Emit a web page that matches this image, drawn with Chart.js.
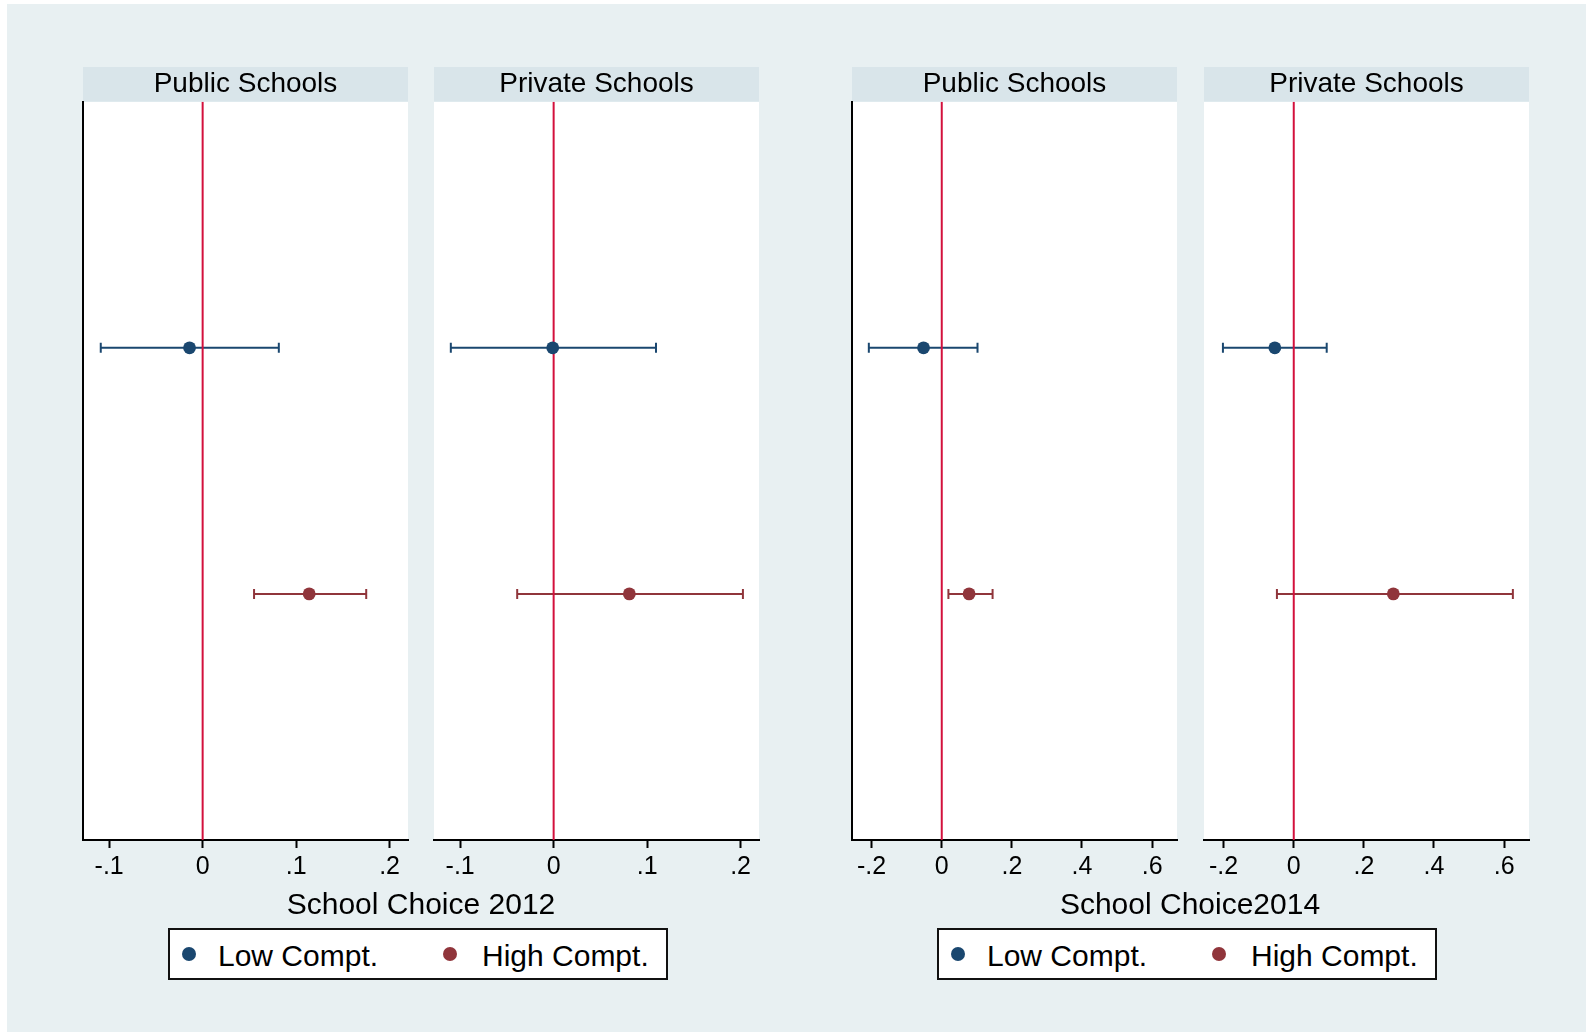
<!DOCTYPE html>
<html>
<head>
<meta charset="utf-8">
<script src="https://cdn.jsdelivr.net/npm/chart.js@4.4.1/dist/chart.umd.min.js"></script>
<style>
  body { margin:0; background:#fff; font-family:'Liberation Sans', Arial, sans-serif; }
  #page { position:relative; width:1594px; height:1035px; background:#fff; overflow:hidden; }
  #bg { position:absolute; left:7px; top:4px; width:1579px; height:1028px; background:#e8f0f2; }
  .panel { position:absolute; top:67px; }
  .axtitle { position:absolute; font-size:30px; color:#000; text-align:center; width:700px; line-height:34px; }
  .legend { position:absolute; top:928px; width:496px; height:48px; background:#fff; border:2px solid #111; }
  .legend .dot { position:absolute; top:17px; width:14px; height:14px; border-radius:50%; }
  .legend .lab { position:absolute; top:8px; font-size:30px; line-height:36px; color:#000; white-space:nowrap; }
</style>
</head>
<body>
<div id="page">
  <div id="bg"></div>
  <canvas id="c0" class="panel" width="333" height="823"></canvas>
  <canvas id="c1" class="panel" width="333" height="823"></canvas>
  <canvas id="c2" class="panel" width="333" height="823"></canvas>
  <canvas id="c3" class="panel" width="333" height="823"></canvas>
  <div class="axtitle" id="t2012" style="left:71px;top:887px">School Choice 2012</div>
  <div class="axtitle" id="t2014" style="left:840px;top:887px">School Choice2014</div>
  <div class="legend" style="left:168px">
    <span class="dot" style="left:12px;background:#1a476f"></span><span class="lab" style="left:48px">Low Compt.</span>
    <span class="dot" style="left:273px;background:#90353b"></span><span class="lab" style="left:312px">High Compt.</span>
  </div>
  <div class="legend" style="left:937px">
    <span class="dot" style="left:12px;background:#1a476f"></span><span class="lab" style="left:48px">Low Compt.</span>
    <span class="dot" style="left:273px;background:#90353b"></span><span class="lab" style="left:312px">High Compt.</span>
  </div>
</div>
<script>
// panels: 2012 public, 2012 private, 2014 public, 2014 private
var panelTitles = ['Public Schools', 'Private Schools', 'Public Schools', 'Private Schools'];
var rowNames = ['Low Compt.', 'High Compt.'];
var rowPos = [1, 2];

var lowEst = [-0.014, -0.001, -0.052, -0.054];
var lowLo  = [-0.109, -0.110, -0.208, -0.202];
var lowHi  = [0.0815, 0.1095, 0.102, 0.094];
var highEst = [0.114, 0.081, 0.078, 0.284];
var highLo  = [0.055, -0.039, 0.019, -0.048];
var highHi  = [0.175, 0.2025, 0.145, 0.625];

var ticks2012 = [-0.1, 0, 0.1, 0.2];
var tickLabels2012 = ['-.1', '0', '.1', '.2'];
var ticks2014 = [-0.2, 0, 0.2, 0.4, 0.6];
var tickLabels2014 = ['-.2', '0', '.2', '.4', '.6'];
var range2012 = [-0.128, 0.2197];
var range2014 = [-0.256, 0.671];

var panelLeft = [83.4, 434, 852, 1203.7];
var navy = '#1a476f', maroon = '#90353b', refRed = '#d3103c';
var fontFam = "'Liberation Sans', Arial, sans-serif";

// white plot region + header band behind the title
var panelBg = {
  id: 'panelBg',
  beforeDraw: function(chart) {
    var ctx = chart.ctx, a = chart.chartArea, tb = chart.titleBlock;
    ctx.save();
    ctx.fillStyle = '#ffffff';
    ctx.fillRect(a.left, a.top, a.right - a.left, a.bottom - a.top);
    ctx.fillStyle = '#d9e5ea';
    ctx.fillRect(a.left, tb.top, a.right - a.left, tb.height);
    ctx.restore();
  }
};

function ciSet(lo, hi, y, color) {
  return {
    type: 'line', showLine: true,
    data: [{x: lo, y: y}, {x: hi, y: y}],
    borderColor: color, borderWidth: 2,
    pointStyle: 'line', pointRotation: 90, pointRadius: 5,
    pointBorderWidth: 2, pointBorderColor: color,
    order: 3
  };
}

for (var i = 0; i < 4; i++) {
  var is2012 = i < 2;
  var tv = is2012 ? ticks2012 : ticks2014;
  var tl = is2012 ? tickLabels2012 : tickLabels2014;
  var rg = is2012 ? range2012 : range2014;
  var firstInGroup = (i % 2 === 0);
  var cv = document.getElementById('c' + i);
  cv.style.left = (panelLeft[i] - 4) + 'px';

  (function(tv, tl) {
  new Chart(cv.getContext('2d'), {
    type: 'scatter',
    data: {
      datasets: [
        {
          label: rowNames[0], data: [{x: lowEst[i], y: rowPos[0]}],
          backgroundColor: navy, borderWidth: 0, pointRadius: 6.4, order: 1
        },
        {
          label: rowNames[1], data: [{x: highEst[i], y: rowPos[1]}],
          backgroundColor: maroon, borderWidth: 0, pointRadius: 6.4, order: 1
        },
        ciSet(lowLo[i], lowHi[i], rowPos[0], navy),
        ciSet(highLo[i], highHi[i], rowPos[1], maroon),
        {
          type: 'line', showLine: true, label: 'zero',
          data: [{x: 0, y: 0}, {x: 0, y: 3}],
          borderColor: refRed, borderWidth: 2, pointRadius: 0, order: 2
        }
      ]
    },
    options: {
      responsive: false,
      animation: false,
      devicePixelRatio: 1,
      layout: { autoPadding: false, padding: { left: 4, right: 4, top: 0, bottom: 0 } },
      plugins: {
        legend: { display: false },
        tooltip: { enabled: false },
        title: {
          display: true, text: panelTitles[i], color: '#000',
          font: { family: fontFam, size: 28, weight: 'normal', lineHeight: 1.2 },
          padding: { top: 0.5, bottom: 0.6 }
        }
      },
      scales: {
        x: {
          type: 'linear', min: rg[0], max: rg[1],
          afterBuildTicks: function(s) { s.ticks = tv.map(function(v) { return {value: v}; }); },
          afterFit: function(s) { s.height = 50; s.paddingLeft = 0; s.paddingRight = 0; },
          ticks: {
            color: '#000', padding: 4, maxRotation: 0,
            font: { family: fontFam, size: 25 },
            callback: function(v) { return tl[tv.indexOf(v)]; }
          },
          grid: { drawOnChartArea: false, drawTicks: true, tickLength: 8, tickColor: '#000', tickWidth: 2, color: '#000' },
          border: { display: true, color: '#000', width: 2 }
        },
        y: {
          type: 'linear', min: 0, max: 3, reverse: true,
          display: firstInGroup,
          afterFit: function(s) { s.width = 0; },
          ticks: { display: false },
          grid: { display: false, drawTicks: false },
          border: { display: true, color: '#000', width: 2 }
        }
      }
    },
    plugins: [panelBg]
  });
  })(tv, tl);
}
</script>
</body>
</html>
